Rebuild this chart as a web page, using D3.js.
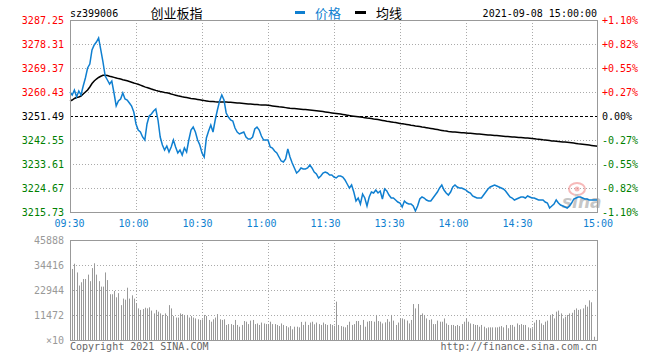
<!DOCTYPE html>
<html><head><meta charset="utf-8">
<script src="https://cdn.jsdelivr.net/npm/d3@7/dist/d3.min.js"></script>
<style>body{margin:0;background:#fff}svg{display:block}</style>
</head><body><svg id="c" width="660" height="360"></svg>
<script>
const stockCode = "sz399006";
const stockName = "创业板指";
const dateText = "2021-09-08 15:00:00";
const legendNames = ["价格", "均线"];
const prevClose = 3251.49;
const priceTicks = [3287.25, 3278.31, 3269.37, 3260.43, 3251.49, 3242.55, 3233.61, 3224.67, 3215.73];
const pctTicks = ["+1.10%", "+0.82%", "+0.55%", "+0.27%", "0.00%", "-0.27%", "-0.55%", "-0.82%", "-1.10%"];
const volTicks = [45888, 34416, 22944, 11472, 0];
const volTickLabels = ["45888", "34416", "22944", "11472", "×10"];
const timeLabels = ["09:30", "10:00", "10:30", "11:00", "11:30", "13:30", "14:00", "14:30", "15:00"];

const prices = [
3260.43,3259.31,3261.17,3258.57,3260.80,3259.31,3262.67,3265.65,3269.37,3270.86,
3276.08,3277.94,3279.05,3280.55,3276.08,3271.60,3266.39,3264.90,3263.41,3264.53,
3260.06,3255.22,3257.08,3257.83,3260.06,3257.83,3257.45,3256.33,3255.22,3252.98,
3248.51,3246.27,3245.53,3243.67,3242.55,3248.51,3251.49,3252.24,3253.35,3254.10,
3250.00,3243.67,3240.69,3238.82,3240.31,3238.08,3239.94,3242.55,3239.94,3237.71,
3238.82,3236.96,3239.57,3238.08,3242.55,3246.27,3247.39,3245.53,3242.55,3240.69,
3237.71,3236.22,3243.30,3245.90,3248.14,3245.53,3250.00,3253.72,3257.08,3259.31,
3257.45,3252.61,3251.12,3250.00,3249.63,3247.02,3245.53,3244.79,3245.16,3245.53,
3243.67,3242.92,3242.92,3243.67,3246.65,3247.39,3246.27,3244.04,3242.55,3242.55,
3242.55,3239.94,3239.57,3238.45,3237.71,3236.22,3234.73,3234.35,3235.47,3239.20,
3236.22,3233.98,3232.12,3230.26,3231.00,3232.12,3231.75,3231.75,3232.12,3233.24,
3232.12,3230.63,3229.89,3228.40,3229.14,3230.26,3230.63,3230.26,3229.51,3229.51,
3228.77,3228.40,3229.14,3229.14,3228.77,3227.65,3226.16,3224.67,3225.79,3223.18,
3219.83,3220.94,3218.71,3222.43,3220.94,3217.96,3221.32,3223.18,3222.81,3223.92,
3222.81,3223.55,3220.57,3224.30,3223.55,3222.06,3220.94,3220.94,3220.20,3219.45,
3219.08,3217.59,3219.83,3219.08,3218.71,3218.71,3217.96,3216.10,3217.96,3220.57,
3221.32,3220.94,3220.20,3219.83,3219.83,3220.94,3222.06,3223.18,3224.67,3225.79,
3223.92,3222.81,3222.06,3223.18,3225.04,3225.79,3225.04,3224.67,3224.67,3224.30,
3223.92,3223.18,3222.81,3221.69,3221.32,3220.94,3220.94,3220.94,3222.06,3223.18,
3224.30,3225.04,3225.42,3225.79,3225.42,3225.04,3224.67,3224.30,3223.55,3222.43,
3221.32,3220.94,3220.20,3220.57,3220.94,3221.32,3221.32,3220.94,3221.69,3221.32,
3220.94,3220.94,3220.57,3220.20,3220.20,3220.20,3219.45,3219.08,3217.22,3217.96,
3218.71,3220.20,3219.08,3218.34,3217.96,3217.59,3217.22,3217.96,3219.08,3220.57,
3220.94,3221.32,3221.32,3220.94,3220.57,3220.57,3220.20,3220.20,3220.20,3220.20,
3220.20];

const avgPrices = [
3257.08,3257.45,3258.01,3258.38,3258.57,3258.94,3259.69,3260.43,3261.17,3262.29,
3263.60,3264.53,3265.27,3265.83,3266.28,3266.65,3266.69,3266.58,3266.31,3266.09,
3265.87,3265.65,3265.42,3265.24,3265.01,3264.83,3264.60,3264.34,3264.08,3263.78,
3263.56,3263.30,3263.00,3262.67,3262.33,3262.07,3261.85,3261.55,3261.29,3261.03,
3260.80,3260.62,3260.47,3260.28,3260.13,3259.95,3259.69,3259.46,3259.24,3259.02,
3258.83,3258.64,3258.49,3258.34,3258.20,3258.05,3257.93,3257.82,3257.67,3257.53,
3257.38,3257.23,3257.12,3257.01,3256.93,3256.86,3256.78,3256.75,3256.71,3256.71,
3256.71,3256.67,3256.63,3256.60,3256.52,3256.45,3256.37,3256.30,3256.22,3256.15,
3256.07,3256.00,3255.96,3255.89,3255.81,3255.74,3255.66,3255.63,3255.59,3255.55,
3255.48,3255.36,3255.25,3255.14,3255.03,3254.91,3254.84,3254.73,3254.61,3254.50,
3254.39,3254.32,3254.24,3254.17,3254.10,3254.02,3253.95,3253.87,3253.80,3253.72,
3253.65,3253.57,3253.46,3253.35,3253.24,3253.13,3253.02,3252.91,3252.76,3252.65,
3252.53,3252.42,3252.31,3252.20,3252.09,3251.94,3251.79,3251.64,3251.53,3251.42,
3251.31,3251.20,3251.09,3250.98,3250.86,3250.75,3250.67,3250.56,3250.41,3250.30,
3250.15,3250.00,3249.85,3249.70,3249.55,3249.44,3249.29,3249.14,3249.03,3248.88,
3248.73,3248.62,3248.48,3248.36,3248.22,3248.07,3247.96,3247.80,3247.69,3247.54,
3247.39,3247.28,3247.13,3246.98,3246.87,3246.72,3246.57,3246.43,3246.27,3246.13,
3245.98,3245.86,3245.71,3245.64,3245.57,3245.49,3245.42,3245.34,3245.27,3245.23,
3245.16,3245.08,3245.05,3244.97,3244.90,3244.82,3244.75,3244.67,3244.60,3244.52,
3244.45,3244.41,3244.34,3244.26,3244.19,3244.11,3244.04,3243.96,3243.89,3243.85,
3243.78,3243.70,3243.67,3243.59,3243.52,3243.44,3243.37,3243.29,3243.26,3243.18,
3243.11,3243.03,3242.92,3242.85,3242.74,3242.63,3242.55,3242.44,3242.32,3242.21,
3242.14,3242.06,3241.99,3241.92,3241.84,3241.77,3241.69,3241.62,3241.51,3241.40,
3241.28,3241.17,3241.10,3240.98,3240.87,3240.76,3240.65,3240.54,3240.43,3240.32,
3240.20];

const volumes = [
45888,32600,35000,31000,25000,26500,28000,28000,30000,27000,
33000,35200,30000,27000,24500,24500,31000,27500,21000,21000,
22500,19600,21500,16000,19000,18500,24000,19000,20500,19000,
17000,14500,13800,14200,14800,14500,15000,13500,12200,13800,
13000,12200,11500,12200,11000,16000,14500,11000,10300,10300,
12200,11900,11500,11500,10300,11000,10300,9900,9500,9200,
9500,11500,11000,9200,8400,9500,10300,11900,9500,9200,
9500,6900,7300,7300,6900,9200,6900,6100,6900,8700,
8400,7300,8900,9200,7300,7600,6900,8000,7600,7300,
7300,8400,7300,7300,6900,6400,7600,6900,6400,5800,
6400,4900,6100,6100,5800,8300,6900,8400,6900,8000,
8400,7200,8000,7300,6900,8000,7300,6900,7300,6900,
6500,17600,6900,6400,6100,5800,6900,8400,6900,7300,
8700,8700,6900,9200,6100,8400,8700,8700,8400,11500,
8700,8400,7600,8100,9600,8400,11500,8900,6900,8000,
9900,9900,9500,8900,7600,9200,16500,14500,16500,11500,
12200,11500,9900,9200,9500,7300,7300,8900,8400,8400,
9900,7600,6900,6900,6900,6400,6900,6400,7300,8400,
9900,8400,7600,7300,6900,6900,6100,6900,6100,5400,
5800,5800,5800,5800,5800,6100,6400,5800,6900,5400,
6900,6900,6100,7600,6900,7300,6900,6900,5800,5400,
5400,8000,9200,9200,7600,6900,8400,8900,11500,11900,
9900,13000,13500,12200,9900,10700,11500,12200,12500,13800,
14500,13800,14100,14500,16100,15300,18200,17300,1500,0,
0];

const svg = d3.select("#c");
const FONT = "'DejaVu Sans Mono', monospace";
const CJK = "'Noto Sans CJK SC', sans-serif";
const BLUE = "#0f7fd0", RED = "#ff0000", GREEN = "#008000", GRID = "#aaaaaa", BORDER = "#999999";

const L = 70, R = 598, PT = 20, PB = 212, VT = 240, VB = 340;
const x = d3.scaleLinear().domain([0, 240]).range([L, R]);
const y = d3.scaleLinear().domain([priceTicks[8], priceTicks[0]]).range([PB, PT]);
const yv = d3.scaleLinear().domain([0, volTicks[0]]).range([VB, VT]);
const labelX = d3.scaleLinear().domain([0, 8]).range([69.5, 581.5]);
const gridIdx = [30, 60, 90, 120, 150, 180, 210];

// header
svg.append("text").attr("x", L).attr("y", 16.5).attr("font-family", FONT).attr("font-size", 10).attr("fill", "#000").text(stockCode);
svg.append("text").attr("x", 150.5).attr("y", 17.5).attr("font-family", CJK).attr("font-size", 13).attr("fill", "#000").text(stockName);
svg.append("rect").attr("x", 295).attr("y", 11).attr("width", 10).attr("height", 3).attr("fill", BLUE);
svg.append("text").attr("x", 315).attr("y", 17.5).attr("font-family", CJK).attr("font-size", 13).attr("fill", BLUE).text(legendNames[0]);
svg.append("rect").attr("x", 355).attr("y", 11).attr("width", 11).attr("height", 3).attr("fill", "#000");
svg.append("text").attr("x", 376).attr("y", 17.5).attr("font-family", CJK).attr("font-size", 13).attr("fill", "#000").text(legendNames[1]);
svg.append("text").attr("x", 597).attr("y", 16.5).attr("text-anchor", "end").attr("font-family", FONT).attr("font-size", 10).attr("fill", "#000").text(dateText);

// price grid
const g = svg.append("g");
g.selectAll(".hg").data(priceTicks.slice(1, 8).filter(v => v !== prevClose)).enter().append("line")
  .attr("x1", L).attr("x2", R).attr("y1", d => Math.round(y(d)) + 0.5).attr("y2", d => Math.round(y(d)) + 0.5)
  .attr("stroke", GRID).attr("stroke-dasharray", "1,2");
g.selectAll(".vg").data(gridIdx).enter().append("line")
  .attr("x1", d => Math.round(x(d)) + 0.5).attr("x2", d => Math.round(x(d)) + 0.5).attr("y1", PT).attr("y2", PB)
  .attr("stroke", GRID).attr("stroke-dasharray", "1,2");
g.append("line").attr("x1", L).attr("x2", R).attr("y1", Math.round(y(prevClose)) + 0.5).attr("y2", Math.round(y(prevClose)) + 0.5)
  .attr("stroke", "#000").attr("stroke-dasharray", "3,2");

// watermark
const wm = svg.append("g").attr("opacity", 0.55);
wm.append("ellipse").attr("cx", 577).attr("cy", 189).attr("rx", 8).attr("ry", 6).attr("fill", "none").attr("stroke", "#f08080").attr("stroke-width", 2);
wm.append("circle").attr("cx", 577).attr("cy", 189).attr("r", 2.5).attr("fill", "#f08080");
wm.append("text").attr("x", 562).attr("y", 208).attr("font-family", "'DejaVu Sans', sans-serif").attr("font-style", "italic").attr("font-weight", "bold")
  .attr("font-size", 17).attr("fill", "#999").text("sina");

// lines
const line = d3.line().x((d, i) => x(i)).y(d => y(d));
svg.append("path").datum(avgPrices).attr("d", line).attr("fill", "none").attr("stroke", "#000").attr("stroke-width", 1.5);
svg.append("path").datum(prices).attr("d", line).attr("fill", "none").attr("stroke", BLUE).attr("stroke-width", 1.5);

// price frame
svg.append("rect").attr("x", L + 0.5).attr("y", PT + 0.5).attr("width", R - L - 1).attr("height", PB - PT)
  .attr("fill", "none").attr("stroke", BORDER);

// axis labels
const colorFor = (v) => v > prevClose ? RED : (v < prevClose ? GREEN : "#000");
svg.selectAll(".pl").data(priceTicks).enter().append("text")
  .attr("x", 64).attr("y", d => y(d) + 3.5).attr("text-anchor", "end")
  .attr("font-family", FONT).attr("font-size", 10).attr("fill", colorFor).text(d => d.toFixed(2));
svg.selectAll(".rl").data(pctTicks).enter().append("text")
  .attr("x", 602).attr("y", (d, i) => y(priceTicks[i]) + 3.5)
  .attr("font-family", FONT).attr("font-size", 10).attr("fill", (d, i) => colorFor(priceTicks[i])).text(d => d);
svg.selectAll(".tl").data(timeLabels).enter().append("text")
  .attr("x", (d, i) => i === 8 ? x(240) : labelX(i)).attr("y", 227).attr("text-anchor", "middle")
  .attr("font-family", FONT).attr("font-size", 10).attr("fill", BLUE).text(d => d);

// volume grid
const vg = svg.append("g");
vg.selectAll(".vh").data(volTicks.slice(1, 4)).enter().append("line")
  .attr("x1", L).attr("x2", R).attr("y1", d => Math.round(yv(d)) + 0.5).attr("y2", d => Math.round(yv(d)) + 0.5)
  .attr("stroke", GRID).attr("stroke-dasharray", "1,2");
vg.selectAll(".vv").data(gridIdx).enter().append("line")
  .attr("x1", d => Math.round(x(d)) + 0.5).attr("x2", d => Math.round(x(d)) + 0.5).attr("y1", VT).attr("y2", VB)
  .attr("stroke", GRID).attr("stroke-dasharray", "1,2");

// volume bars
svg.selectAll(".vb").data(volumes).enter().append("rect")
  .attr("x", (d, i) => Math.round(x(i)))
  .attr("y", d => yv(d)).attr("width", 1).attr("height", d => VB - yv(d))
  .attr("fill", "#999");

svg.append("rect").attr("x", L + 0.5).attr("y", VT + 0.5).attr("width", R - L - 1).attr("height", VB - VT)
  .attr("fill", "none").attr("stroke", BORDER);

svg.selectAll(".vl").data(volTicks).enter().append("text")
  .attr("x", 64).attr("y", d => yv(d) + 3.5).attr("text-anchor", "end")
  .attr("font-family", FONT).attr("font-size", 10).attr("fill", "#999").text((d, i) => volTickLabels[i]);

// footer
svg.append("text").attr("x", L).attr("y", 349.5).attr("font-family", FONT).attr("font-size", 10).attr("fill", "#666").text("Copyright 2021 SINA.COM");
svg.append("text").attr("x", 597).attr("y", 349.5).attr("text-anchor", "end").attr("font-family", FONT).attr("font-size", 10).attr("fill", "#666").text("http://finance.sina.com.cn");
</script></body></html>
